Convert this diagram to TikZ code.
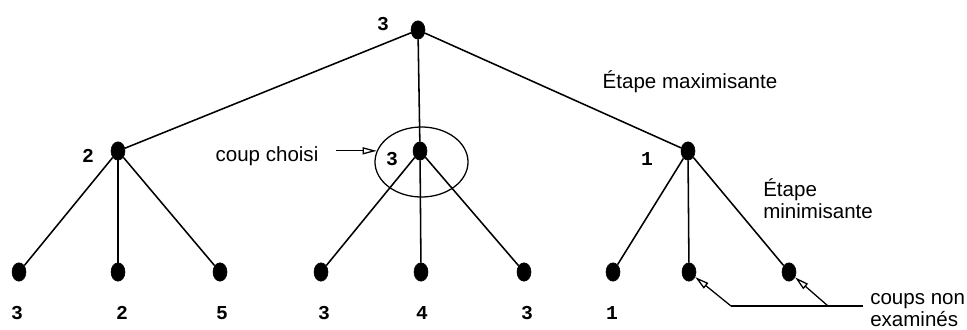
\documentclass[tikz,border=0pt]{standalone}
\usepackage{fontspec}
\setmainfont{Liberation Sans}
\newfontfamily\valfont{Liberation Mono}
\usetikzlibrary{arrows.meta, positioning, shapes.geometric}

\begin{document}
\begin{tikzpicture}[x=0.025cm, y=-0.025cm,
  >={Triangle[open, length=10pt, width=5pt]},
  dot/.style={ellipse, fill=black, draw=black, inner sep=0pt, minimum width=0.35cm, minimum height=0.46cm},
  val/.style={font=\valfont\bfseries\fontsize{14}{16}\selectfont, inner sep=0pt},
  lab/.style={font=\fontsize{14.6}{15.6}\selectfont, align=left, inner sep=0pt},
  link/.style={line width=1.1pt},
  thin link/.style={line width=0.9pt}]
  \useasboundingbox (0,0) rectangle (967,329);
  % positions
  \node[dot] (root) at (418,30) {};
  \node[dot] (nl) at (118,151) {};
  \node[dot] (nm) at (420,151) {};
  \node[dot] (nr) at (688,151) {};
  \node[dot] (l1) at (19,272) {};
  \node[dot] (l2) at (118,272) {};
  \node[dot] (l3) at (220,272) {};
  \node[dot] (l4) at (321,272) {};
  \node[dot] (l5) at (421,272) {};
  \node[dot] (l6) at (524,272) {};
  \node[dot] (l7) at (613,272) {};
  \node[dot] (l8) at (689,272) {};
  \node[dot] (l9) at (789,272) {};
  \draw[link] (root) -- (nl); \draw[link] (root) -- (nm); \draw[link] (root) -- (nr);
  \draw[link] (nl) -- (l1); \draw[link] (nl) -- (l2); \draw[link] (nl) -- (l3);
  \draw[link] (nm) -- (l4); \draw[link] (nm) -- (l5); \draw[link] (nm) -- (l6);
  \draw[link] (nr) -- (l7); \draw[link] (nr) -- (l8); \draw[link] (nr) -- (l9);
  % values
  \node[val] (vroot) at (383,24) {3};
  \node[val] (vl) at (88,156) {2};
  \node[val] (vm) at (392,159) {3};
  \node[val] (vr) at (647,159) {1};
  \node[val] (v1) at (17,313) {3};
  \node[val] (v2) at (122,313) {2};
  \node[val] (v3) at (222,313) {5};
  \node[val] (v4) at (324,313) {3};
  \node[val] (v5) at (422,313) {4};
  \node[val] (v6) at (527,313) {3};
  \node[val] (v7) at (612,313) {1};
  % chosen move
  \node[draw, ellipse, line width=0.9pt, minimum width=2.325cm, minimum height=1.75cm] (choice) at (421.5,162) {};
  \node[lab] (choisi) at (267,156) {coup choisi};
  \draw[->, thin link] ([xshift=12pt]choice.166 -| choisi.east) -- (choice.166);
  % stages
  \node[lab] (maxi) at (690,82) {Étape maximisante};
  \node[lab, anchor=west] (mini) at (763,199) {Étape\\minimisante};
  % not examined
  \node[lab, anchor=west] (nonex) at (870,310) {coups non\\examinés};
  \coordinate (c1) at (731,306);
  \coordinate (c2) at (828,306);
  \draw[thin link] (c1) -- ([xshift=-5pt]c1 -| nonex.west);
  \draw[->, thin link] (c1) -- (l8);
  \draw[->, thin link] (c2) -- (l9);
\end{tikzpicture}
\end{document}
